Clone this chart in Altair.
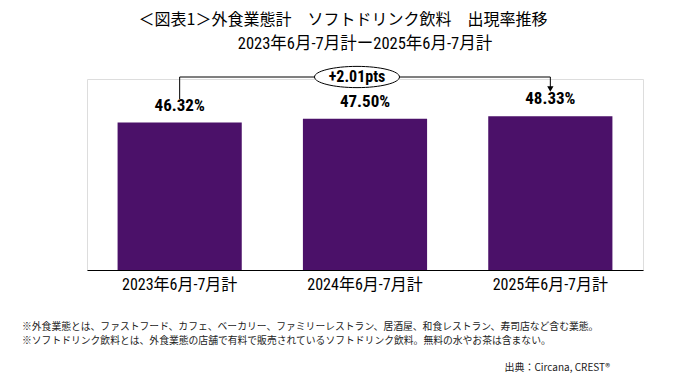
import altair as alt
import pandas as pd

categories = ["2023年6月-7月計", "2024年6月-7月計", "2025年6月-7月計"]
values = [46.32, 47.50, 48.33]
labels = ["46.32%", "47.50%", "48.33%"]
diff_label = "+2.01pts"
title1 = "＜図表1＞外食業態計　ソフトドリンク飲料　出現率推移"
title2 = "2023年6月-7月計ー2025年6月-7月計"
note1 = "※外食業態とは、ファストフード、カフェ、ベーカリー、ファミリーレストラン、居酒屋、和食レストラン、寿司店など含む業態。"
note2 = "※ソフトドリンク飲料とは、外食業態の店舗で有料で販売されているソフトドリンク飲料。無料の水やお茶は含まない。"
source = "出典：Circana, CREST®"

NARROW = "Liberation Sans Narrow, Roboto Condensed, Arial Narrow, Noto Sans CJK JP, sans-serif"
JP = "Noto Sans CJK JP, sans-serif"
PURPLE = "#4b1169"

df = pd.DataFrame({"cat": categories, "val": values, "label": labels})
bracket = pd.DataFrame({"start": [categories[0]], "end": [categories[-1]], "mid": [categories[1]], "t": [diff_label]})

yenc = alt.Y("val:Q", scale=alt.Scale(domain=[0, 60]), axis=None)

base = alt.Chart(df)
bars = base.mark_bar(color=PURPLE).encode(
    x=alt.X("cat:N", sort=categories, scale=alt.Scale(paddingInner=0.33, paddingOuter=0.165),
            axis=alt.Axis(title=None, labelAngle=0, ticks=False, domainColor="black",
                          domainWidth=1, labelFontSize=16, labelFont=NARROW,
                          labelColor="black", labelPadding=6)),
    y=yenc)
vals = base.mark_text(baseline="bottom", dy=-8, fontSize=17, fontWeight="bold", font=NARROW, color="black").encode(
    x=alt.X("cat:N", sort=categories), y="val:Q", text="label:N")

bch = alt.Chart(bracket)
vline = bch.mark_rule(color="black", strokeWidth=1).encode(
    x=alt.X("start:N", sort=categories), y=alt.value(-2), y2=alt.value(20))
hline = bch.mark_rule(color="black", strokeWidth=1).encode(
    x=alt.X("start:N", sort=categories), x2="end:N", y=alt.value(-2))
aline = bch.mark_rule(color="black", strokeWidth=1).encode(
    x=alt.X("end:N", sort=categories), y=alt.value(-2), y2=alt.value(8))
ahead = bch.mark_point(shape="triangle-down", filled=True, color="black", size=40, opacity=1).encode(
    x=alt.X("end:N", sort=categories), y=alt.value(10))
ellipse = bch.mark_point(shape="M -1 0 A 1 0.25 0 1 1 1 0 A 1 0.25 0 1 1 -1 0 Z",
                         size=7225, filled=True, fill="white", stroke="black", strokeWidth=1, opacity=1,
                         xOffset=-8).encode(
    x=alt.X("mid:N", sort=categories), y=alt.value(-2))
etext = bch.mark_text(fontSize=16, fontWeight="bold", font=NARROW, color="black", xOffset=-8).encode(
    x=alt.X("mid:N", sort=categories), y=alt.value(-2), text="t:N")

def txt(s, x, y, size, font, align="center", color="black"):
    return alt.Chart(pd.DataFrame({"t": [s]})).mark_text(
        fontSize=size, font=font, align=align, baseline="middle", color=color).encode(
        x=alt.value(x), y=alt.value(y), text="t:N")

t1 = txt(title1, 256, -59, 16, JP)
t2 = txt(title2, 278, -35, 16.5, NARROW)
n1 = txt(note1, -65, 248, 9.8, JP, align="left", color="#222222")
n2 = txt(note2, -65, 262, 9.8, JP, align="left", color="#222222")
src = txt(source, 523, 289, 10, JP, align="right", color="#222222")

chart = alt.layer(bars, vals, vline, hline, aline, ahead, ellipse, etext, t1, t2, n1, n2, src).properties(
    width=556, height=191,
    autosize=alt.AutoSizeParams(type="none"),
    padding={"left": 79, "top": 71, "right": 40, "bottom": 105},
).configure_view(stroke=None).configure(background="white")

chart.save("out.html", embed_options={"renderer": "svg", "actions": False})
